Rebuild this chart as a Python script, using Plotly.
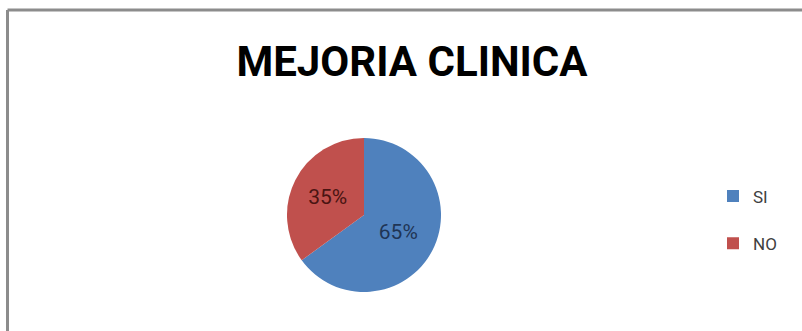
import plotly.graph_objects as go

# Chart data
categories = ["SI", "NO"]
values = [65, 35]
slice_colors = ["#4F81BD", "#C0504D"]
label_colors = ["#1F3555", "#4A1412"]
title_text = "MEJORIA CLINICA"

W, H = 802, 331

# legend entries get an extra blank line so the two items sit further apart
legend_names = [f"{c}<br> " for c in categories]

fig = go.Figure(
    go.Pie(
        labels=legend_names,
        values=values,
        sort=False,
        direction="clockwise",
        rotation=0,
        marker=dict(colors=slice_colors, line=dict(width=0)),
        textinfo="percent",
        texttemplate="%{percent:.0%}",
        textposition="inside",
        insidetextorientation="horizontal",
        insidetextfont=dict(family="Roboto, Liberation Sans, Arial", size=21,
                            color=label_colors),
        hovertemplate="%{customdata}: %{value}<extra></extra>",
        customdata=categories,
        domain=dict(x=[(364 - 77) / W, (364 + 77) / W], y=[(116 - 77) / H, (116 + 77) / H]),
        showlegend=True,
    )
)

fig.update_layout(
    width=W,
    height=H,
    margin=dict(l=0, r=0, t=0, b=0),
    paper_bgcolor="white",
    plot_bgcolor="white",
    title=dict(
        text=f"<b>{title_text}</b>",
        x=412 / W,
        xanchor="center",
        y=1 - 61 / H,
        yanchor="middle",
        yref="container",
        font=dict(family="Roboto, Liberation Sans, Arial", size=42, color="#000000"),
    ),
    legend=dict(
        x=713 / W,
        xanchor="left",
        y=1 - 231 / H,
        yanchor="middle",
        valign="top",
        font=dict(family="Roboto, Liberation Sans, Arial", size=17, color="#404040"),
        bgcolor="rgba(0,0,0,0)",
    ),
    shapes=[
        # chart-area frame (top and left edges visible)
        dict(type="line", xref="paper", yref="paper", x0=7.5 / W, x1=1.0, y0=1 - 10 / H, y1=1 - 10 / H,
             line=dict(color="#8C8C8C", width=3)),
        dict(type="line", xref="paper", yref="paper", x0=7.5 / W, x1=7.5 / W, y0=0, y1=1 - 10 / H,
             line=dict(color="#8C8C8C", width=3)),
    ],
)

fig.write_html("out.html")
